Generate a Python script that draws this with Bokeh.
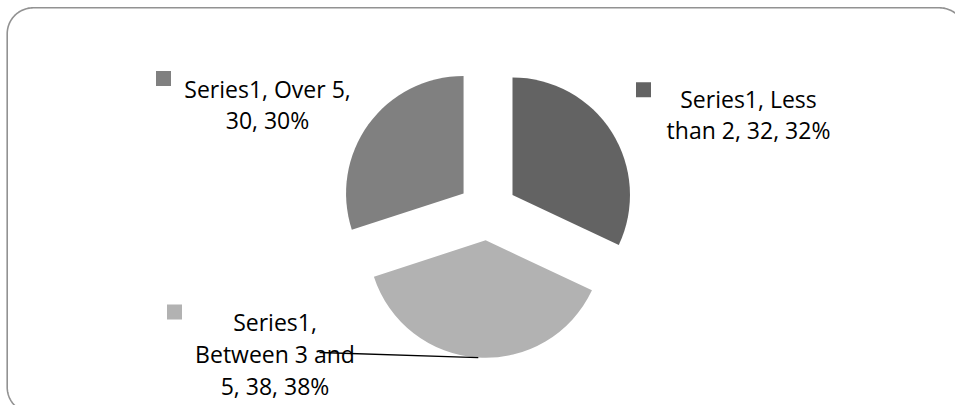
import numpy as np
from bokeh.plotting import figure
from bokeh.models import Range1d
from bokeh.core.properties import value
from bokeh.embed import file_html
from bokeh.resources import INLINE

# ---- data ----
series_name = "Series1"
categories = ["Less than 2", "Between 3 and 5", "Over 5"]
values = [32, 38, 30]
colors = ["#636363", "#b2b2b2", "#808080"]
label_lines = [
    ["Series1, Less", "than 2, 32, 32%"],
    ["Series1,", "Between 3 and", "5, 38, 38%"],
    ["Series1, Over 5,", "30, 30%"],
]

# ---- layout (screen pixels, y measured from top) ----
W, H = 955, 405
pie_cx, pie_cy = 487.0, 210.3
pie_r = 117.5
explode = 29.6
label_center_x = [748, 274.5, 267]
label_first_baseline = [98, 321.7, 88]
line_step = 31.8
marker_pos = [(643, 89.3), (174, 311.5), (163, 78)]
font_px = "23px"


def sy(y):
    return H - y


p = figure(width=W, height=H, x_range=Range1d(0, W), y_range=Range1d(0, H),
           output_backend="svg", toolbar_location=None, min_border=0,
           x_axis_type=None, y_axis_type=None)
p.grid.visible = False
p.outline_line_color = None
p.background_fill_color = "white"
p.border_fill_color = "white"

# rounded frame
left, top, right, bottom, rr = 6.7, 7.3, 965.0, 412.7, 26.0
pts = []
for (ccx, ccy, a0, a1) in [
    (left + rr, top + rr, np.pi, 1.5 * np.pi),
    (right - rr, top + rr, 1.5 * np.pi, 2 * np.pi),
    (right - rr, bottom - rr, 0, 0.5 * np.pi),
    (left + rr, bottom - rr, 0.5 * np.pi, np.pi),
]:
    t = np.linspace(a0, a1, 30)
    for tt in t:
        pts.append((ccx + rr * np.cos(tt), ccy + rr * np.sin(tt)))
pts.append(pts[0])
p.line([q[0] for q in pts], [sy(q[1]) for q in pts], line_color="#929292", line_width=1.6)

# pie
total = float(sum(values))
cum = np.cumsum([0] + values) / total
starts = np.pi / 2 - 2 * np.pi * cum[:-1]
ends = np.pi / 2 - 2 * np.pi * cum[1:]
mids = (starts + ends) / 2
cxs = pie_cx + explode * np.cos(mids)
cys = sy(pie_cy) + explode * np.sin(mids)
p.wedge(x=list(cxs), y=list(cys), radius=pie_r, start_angle=list(starts),
        end_angle=list(ends), direction="clock", fill_color=colors,
        line_color=None)

# labels
tx, ty, tt = [], [], []
for i, lines in enumerate(label_lines):
    for k, line in enumerate(lines):
        tx.append(label_center_x[i])
        ty.append(sy(label_first_baseline[i] + k * line_step))
        tt.append(line)
p.text(x=tx, y=ty, text=tt, text_font=value("Open Sans"), text_font_size=font_px,
       text_align="center", text_baseline="alphabetic", text_color="black")

# legend keys
p.scatter(x=[m[0] for m in marker_pos], y=[sy(m[1]) for m in marker_pos],
          marker="square", size=15, fill_color=colors, line_color=None)

# leader line for the "Between 3 and 5" slice
i = 1
end_x = cxs[i] + pie_r * np.cos(mids[i])
end_y = cys[i] + pie_r * np.sin(mids[i])
p.line([319, end_x], [sy(352), end_y], line_color="black", line_width=1.3)

open("out.html", "w").write(file_html(p, INLINE))
